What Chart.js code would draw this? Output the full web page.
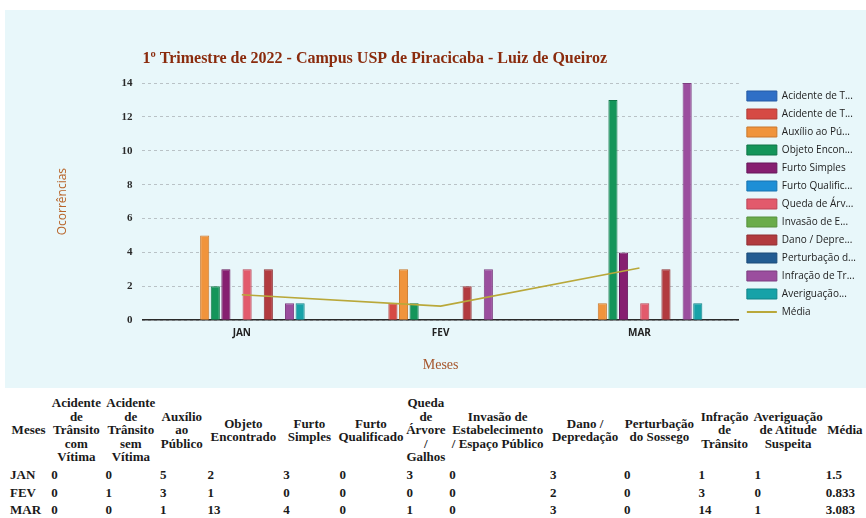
<!DOCTYPE html>
<html lang="pt-BR">
<head>
<meta charset="utf-8">
<script src="https://cdn.jsdelivr.net/npm/chart.js@4.4.1/dist/chart.umd.min.js"></script>
<style>
  html, body { margin: 0; padding: 0; background: #ffffff; }
  body { width: 866px; height: 518px; position: relative; overflow: hidden; }
  #chartBox { position: absolute; left: 5px; top: 10px; width: 861px; height: 378px; background: #e8f7fa; }
  #tbl { position: absolute; left: 8px; top: 394px; border-collapse: collapse; table-layout: fixed;
         font-family: "Liberation Serif", serif; font-weight: bold; font-size: 13px; color: #1a1a1a; }
  #tbl th { font-weight: bold; text-align: center; vertical-align: middle; padding: 0 1px; line-height: 13.4px; }
  #tbl td { text-align: left; padding: 0 2px; height: 17.5px; line-height: 17.5px; white-space: nowrap; }
</style>
</head>
<body>
<div id="chartBox"><canvas id="c" width="861" height="378"></canvas></div>
<table id="tbl"></table>
<script>
// ---- data ----
const months = ["JAN", "FEV", "MAR"];
const seriesNames = [
  "Acidente de Trânsito com Vítima",
  "Acidente de Trânsito sem Vítima",
  "Auxílio ao Público",
  "Objeto Encontrado",
  "Furto Simples",
  "Furto Qualificado",
  "Queda de Árvore / Galhos",
  "Invasão de Estabelecimento / Espaço Público",
  "Dano / Depredação",
  "Perturbação do Sossego",
  "Infração de Trânsito",
  "Averiguação de Atitude Suspeita"
];
const headerLines = [
  "Acidente<br>de<br>Trânsito<br>com<br>Vítima",
  "Acidente<br>de<br>Trânsito<br>sem<br>Vítima",
  "Auxílio<br>ao<br>Público",
  "Objeto<br>Encontrado",
  "Furto<br>Simples",
  "Furto<br>Qualificado",
  "Queda<br>de<br>Árvore<br>/<br>Galhos",
  "Invasão de<br>Estabelecimento<br>/ Espaço Público",
  "Dano /<br>Depredação",
  "Perturbação<br>do Sossego",
  "Infração<br>de<br>Trânsito",
  "Averiguação<br>de Atitude<br>Suspeita"
];
const legendLabels = [
  "Acidente de T...", "Acidente de T...", "Auxílio ao Pú...", "Objeto Encon...",
  "Furto Simples", "Furto Qualific...", "Queda de Árv...", "Invasão de E...",
  "Dano / Depre...", "Perturbação d...", "Infração de Tr...", "Averiguação...", "Média"
];
const acidenteComVitima = [0, 0, 0];
const acidenteSemVitima = [0, 1, 0];
const auxilioPublico    = [5, 3, 1];
const objetoEncontrado  = [2, 1, 13];
const furtoSimples      = [3, 0, 4];
const furtoQualificado  = [0, 0, 0];
const quedaArvore       = [3, 0, 1];
const invasao           = [0, 0, 0];
const danoDepredacao    = [3, 2, 3];
const perturbacao       = [0, 0, 0];
const infracaoTransito  = [1, 3, 14];
const averiguacao       = [1, 0, 1];
const media             = [1.5, 0.833, 3.083];
const mediaLabels       = ["1.5", "0.833", "3.083"];
const yTicks            = [0, 2, 4, 6, 8, 10, 12, 14];

const seriesValues = [acidenteComVitima, acidenteSemVitima, auxilioPublico, objetoEncontrado,
  furtoSimples, furtoQualificado, quedaArvore, invasao, danoDepredacao, perturbacao,
  infracaoTransito, averiguacao];

const colors = ["#2f6fc6", "#d64a44", "#f0943c", "#14955a", "#861f70", "#1e8fd6",
  "#e25a6c", "#6aac4a", "#b23b3f", "#225c92", "#9b4e9e", "#17a2a8"];
const borders = ["#245aa4", "#b03a35", "#c9772c", "#0f7546", "#66165a", "#1673b0",
  "#bb4456", "#56903c", "#902e32", "#1a4a78", "#7d3d80", "#128387"];

// ---- table ----
(function buildTable() {
  const widths = [42, 55, 55, 48, 77, 58, 57, 43, 102, 75, 75, 57, 71, 43];
  const t = document.getElementById('tbl');
  let html = '<colgroup>' + widths.map(w => '<col style="width:' + w + 'px">').join('') + '</colgroup>';
  html += '<tr style="height:72px"><th>Meses</th>' + headerLines.map(h => '<th>' + h + '</th>').join('') + '<th>Média</th></tr>';
  months.forEach((m, i) => {
    html += '<tr><td>' + m + '</td>' + seriesValues.map(s => '<td>' + s[i] + '</td>').join('') + '<td>' + mediaLabels[i] + '</td></tr>';
  });
  t.innerHTML = html;
})();

// ---- chart ----
const titleText = "1º Trimestre de 2022 - Campus USP de Piracicaba - Luiz de Queiroz";
const titlePlugin = {
  id: 'leftTitle',
  afterDraw(chart) {
    const ctx = chart.ctx;
    ctx.save();
    ctx.font = 'bold 16px "Liberation Serif", serif';
    ctx.fillStyle = '#8a2b0d';
    ctx.textAlign = 'left';
    ctx.textBaseline = 'middle';
    ctx.fillText(titleText, chart.chartArea.left, 49);
    ctx.restore();
  }
};

const datasets = seriesNames.map((name, i) => ({
  type: 'bar',
  label: name,
  data: seriesValues[i],
  backgroundColor: colors[i],
  borderColor: borders[i],
  borderWidth: 1,
  order: 2
}));
datasets.push({
  type: 'line',
  label: 'Média',
  data: media,
  borderColor: '#b9a83a',
  backgroundColor: '#b9a83a',
  borderWidth: 1.6,
  pointRadius: 0,
  tension: 0,
  order: 1
});

new Chart(document.getElementById('c'), {
  type: 'bar',
  data: { labels: months, datasets },
  plugins: [titlePlugin],
  options: {
    responsive: false,
    animation: false,
    layout: { padding: { top: 73, bottom: 10, left: 0, right: 0 } },
    datasets: { bar: { categoryPercentage: 0.64, barPercentage: 0.86 } },
    plugins: {
      title: { display: false },
      tooltip: { enabled: false },
      legend: {
        position: 'right',
        align: 'start',
        labels: {
          usePointStyle: true,
          pointStyleWidth: 30,
          boxHeight: 11,
          padding: 8,
          color: '#222',
          font: { family: '"Open Sans", sans-serif', size: 10 },
          generateLabels(chart) {
            return chart.data.datasets.map((ds, i) => ({
              text: legendLabels[i],
              fillStyle: ds.backgroundColor,
              strokeStyle: ds.borderColor,
              lineWidth: ds.type === 'line' ? 2 : 1,
              pointStyle: ds.type === 'line' ? 'line' : 'rect',
              hidden: false,
              datasetIndex: i,
              fontColor: '#222'
            }));
          }
        }
      }
    },
    scales: {
      x: {
        grid: { display: false, drawTicks: false },
        border: { display: true, color: '#2a2a2a', width: 1.5 },
        ticks: { color: '#222', padding: 7, font: { family: '"Open Sans", sans-serif', size: 10, weight: 'bold' } },
        title: { display: true, text: 'Meses', color: '#a6562c',
                 font: { family: '"Liberation Serif", serif', size: 14 }, padding: { top: 11, bottom: 4 } }
      },
      y: {
        min: 0, max: 14,
        afterBuildTicks(scale) { scale.ticks = yTicks.map(v => ({ value: v })); },
        grid: { color: '#b9c2c6', drawTicks: false, lineWidth: 1 },
        border: { display: false, dash: [3, 3] },
        ticks: { color: '#2a2a2a', padding: 10, font: { family: '"Liberation Serif", serif', size: 11, weight: 'bold', lineHeight: 1.6 } },
        title: { display: true, text: 'Ocorrências', color: '#b8652a',
                 font: { family: '"Open Sans", sans-serif', size: 12 }, padding: { top: 50, bottom: 42 } }
      }
    }
  }
});
</script>
</body>
</html>
